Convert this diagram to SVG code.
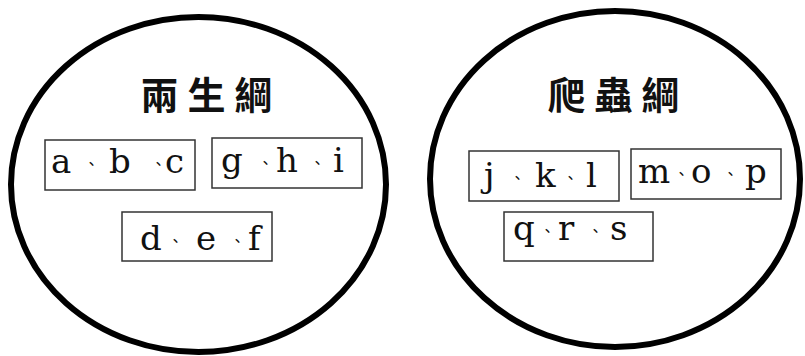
<svg xmlns="http://www.w3.org/2000/svg" width="805" height="356" viewBox="0 0 805 356">
<style>
.circ{fill:none;stroke:#000;stroke-width:6}
.box{fill:#fff;stroke:#333;stroke-width:1.5}
.title{font-family:"Noto Sans CJK TC","Noto Sans CJK SC",sans-serif;font-size:38px;font-weight:700;text-anchor:middle;fill:#111}
.item{font-family:"DejaVu Serif","Liberation Serif",serif;font-size:34px;fill:#111}
.sep{font-family:"Noto Sans CJK TC","Noto Sans CJK SC",sans-serif;font-size:15px}
</style>
<rect width="805" height="356" fill="#fff"/>
<g id="amphibia">
<ellipse class="circ" cx="198.5" cy="184.5" rx="187.5" ry="167.5"/>
<text class="title" x="211" y="109" letter-spacing="9">兩生綱</text>
</g>
<g id="reptilia">
<ellipse class="circ" cx="615" cy="179" rx="185" ry="168"/>
<text class="title" x="618" y="109" letter-spacing="9">爬蟲綱</text>
</g>
<g id="abc">
<rect class="box" x="45" y="140" width="150" height="50"/>
<text class="item" y="173"><tspan x="51">a</tspan><tspan class="sep" x="84" dy="-4">、</tspan><tspan x="109" dy="4">b</tspan><tspan class="sep" x="151" dy="-4">、</tspan><tspan x="165" dy="4">c</tspan></text>
</g>
<g id="ghi">
<rect class="box" x="212" y="138" width="150" height="50"/>
<text class="item" y="172"><tspan x="221">g</tspan><tspan class="sep" x="258" dy="-4">、</tspan><tspan x="276" dy="4">h</tspan><tspan class="sep" x="310" dy="-4">、</tspan><tspan x="333" dy="4">i</tspan></text>
</g>
<g id="def">
<rect class="box" x="122" y="212" width="150" height="49"/>
<text class="item" y="250"><tspan x="140">d</tspan><tspan class="sep" x="168" dy="-4">、</tspan><tspan x="196" dy="4">e</tspan><tspan class="sep" x="230" dy="-4">、</tspan><tspan x="248" dy="4">f</tspan></text>
</g>
<g id="jkl">
<rect class="box" x="469" y="151" width="150" height="50"/>
<text class="item" y="187"><tspan x="484">j</tspan><tspan class="sep" x="510" dy="-4">、</tspan><tspan x="535" dy="4">k</tspan><tspan class="sep" x="563" dy="-4">、</tspan><tspan x="586" dy="4">l</tspan></text>
</g>
<g id="mop">
<rect class="box" x="631" y="149" width="150" height="50"/>
<text class="item" y="183"><tspan x="638">m</tspan><tspan class="sep" x="674" dy="-4">、</tspan><tspan x="691" dy="4">o</tspan><tspan class="sep" x="723" dy="-4">、</tspan><tspan x="745" dy="4">p</tspan></text>
</g>
<g id="qrs">
<rect class="box" x="504" y="212" width="149" height="49"/>
<text class="item" y="240"><tspan x="513">q</tspan><tspan class="sep" x="540" dy="-4">、</tspan><tspan x="558" dy="4">r</tspan><tspan class="sep" x="588" dy="-4">、</tspan><tspan x="610" dy="4">s</tspan></text>
</g>
<g id="connectors"/>
</svg>
